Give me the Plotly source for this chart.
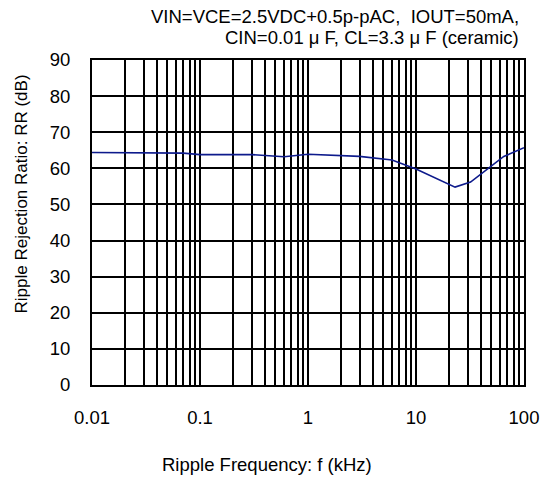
import plotly.graph_objects as go

# ripple frequency (kHz) and ripple rejection ratio (dB)
freq_khz = [0.01, 0.02, 0.05, 0.07, 0.1, 0.3, 0.6, 1, 3, 6, 10, 23, 32, 65, 100]
rr_db = [64.4, 64.4, 64.4, 64.2, 63.8, 63.8, 63.2, 63.9, 63.3, 62.3, 59.8, 54.8, 56.2, 63.3, 65.7]

x_tickvals = [0.01, 0.1, 1, 10, 100]
x_ticktext = ["0.01", "0.1", "1", "10", "100"]
y_tickvals = [0, 10, 20, 30, 40, 50, 60, 70, 80, 90]

x_title = "Ripple Frequency: f (kHz)"
y_title = "Ripple Rejection Ratio: RR (dB)"
cond_line1 = "VIN=VCE=2.5VDC+0.5p-pAC,  IOUT=50mA,"
cond_line2 = "CIN=0.01 \u03bc F, CL=3.3 \u03bc F (ceramic)"

FONT = "Liberation Sans, Arial, sans-serif"
TXT = dict(family=FONT, size=18.5, color="black")

fig = go.Figure()
fig.add_trace(go.Scatter(
    x=freq_khz, y=rr_db,
    mode="lines",
    line=dict(color="#0d1a8c", width=1.6),
    showlegend=False,
))

fig.update_layout(
    width=542, height=479,
    margin=dict(l=92, r=18, t=60, b=94),
    paper_bgcolor="white",
    plot_bgcolor="white",
    font=dict(family=FONT, size=18.5, color="black"),
    annotations=[
        # test conditions, top right
        dict(text=cond_line1, x=1.0, y=1.0, xref="paper", yref="paper",
             xanchor="right", yanchor="bottom", xshift=-3, yshift=31,
             showarrow=False, font=TXT),
        dict(text=cond_line2, x=1.0, y=1.0, xref="paper", yref="paper",
             xanchor="right", yanchor="bottom", xshift=-3, yshift=10,
             showarrow=False, font=TXT),
        # axis titles
        dict(text=x_title, x=0.5, y=0.0, xref="paper", yref="paper",
             xanchor="center", yanchor="middle", xshift=-41, yshift=-79,
             showarrow=False, font=TXT),
        dict(text=y_title, x=0.0, y=0.5, xref="paper", yref="paper",
             xanchor="center", yanchor="middle", xshift=-71, yshift=28,
             textangle=-90, showarrow=False, font=dict(TXT, size=17)),
    ],
)

fig.update_xaxes(
    type="log", range=[-2, 2],
    tickvals=x_tickvals, ticktext=x_ticktext,
    ticks="", ticklabelstandoff=15,
    showgrid=True, gridcolor="black", gridwidth=1.5,
    minor=dict(dtick="D1", showgrid=True, gridcolor="black", gridwidth=1.5),
    showline=True, linecolor="black", linewidth=2, mirror=True,
    zeroline=False, automargin=False,
)
fig.update_yaxes(
    range=[0, 90], tickvals=y_tickvals,
    ticks="", ticklabelstandoff=16,
    showgrid=True, gridcolor="black", gridwidth=1.5,
    showline=True, linecolor="black", linewidth=2, mirror=True,
    zeroline=False, automargin=False,
)

fig.write_html(
    "out.html",
    config={"displayModeBar": False},
    post_script="document.body.style.margin='0';document.body.style.overflow='hidden';",
)
